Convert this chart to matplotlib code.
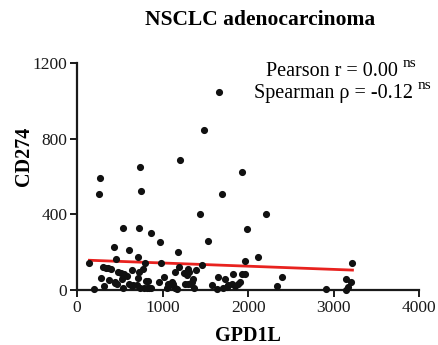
import matplotlib
matplotlib.use("Agg")
import matplotlib.pyplot as plt

plt.rcParams['font.family'] = ['Liberation Serif', 'DejaVu Serif']

# GPD1L (x) vs CD274 (y)
gpd1l = [1657, 1489, 1209, 741, 273, 261, 749, 1934, 1696, 1435, 2207,
         538, 729, 865, 971, 1528, 1992, 433, 612, 710, 460, 1185, 144,
         795, 979, 1462, 1965, 2113,
         308, 336, 366, 394, 775, 647, 476, 511, 553, 581, 284, 378, 448,
         464, 530, 729, 717, 807, 834, 612, 658, 698, 741, 780, 815, 846,
         869, 538, 312, 203, 963, 1021, 1060, 1088, 1123, 1146, 1193, 1142,
         1271, 1295, 1306, 1263, 1302, 1330, 1360, 1372, 1395, 1575, 1645,
         1634, 1731, 1711, 1751, 1770, 1809, 1848, 1887, 1906, 1828, 1930,
         1965, 2394, 2343, 2909, 3220, 3143, 3201, 3166, 3150,
         1166, 1049, 1341, 1108, 1255, 1283, 444, 640]
cd274 = [1048, 849, 689, 652, 594, 507, 522, 625, 507, 403, 400,
         331, 328, 301, 257, 259, 322, 227, 211, 173, 162, 199, 143,
         141, 144, 134, 153, 173,
         123, 118, 116, 114, 113, 109, 97, 88, 85, 74, 62, 51, 41,
         35, 57, 97, 62, 49, 48, 30, 28, 26, 12, 12, 10, 12,
         10, 12, 20, 5, 42, 69, 35, 26, 35, 9, 122, 94,
         88, 113, 97, 30, 30, 32, 58, 9, 106, 26, 70,
         4, 58, 9, 14, 26, 30, 23, 30, 44, 83, 83,
         85, 70, 21, 5, 144, 58, 42, 17, 0,
         4, 9, 44, 44, 88, 79, 39, 20]

# regression line end points
fit_x = [144, 3220]
fit_y = [158, 106]

fig = plt.figure(figsize=(4.38, 3.45), dpi=100)
ax = fig.add_axes([0.176, 0.159, 0.781, 0.658])

ax.scatter(gpd1l, cd274, s=17, color='#111111', zorder=3, clip_on=False)
ax.plot(fit_x, fit_y, color='#e8221f', lw=2, zorder=2)

ax.set_xlim(0, 4000)
ax.set_ylim(0, 1200)
ax.set_xticks([0, 1000, 2000, 3000, 4000])
ax.set_yticks([0, 400, 800, 1200])

for s in ['top', 'right']:
    ax.spines[s].set_visible(False)
for s in ['left', 'bottom']:
    ax.spines[s].set_linewidth(1.6)
    ax.spines[s].set_color('#1a1a1a')
ax.tick_params(width=1.4, length=5, labelsize=12.5, colors='#1a1a1a', pad=2)

ax.set_xlabel("GPD1L", fontsize=14.5, fontweight='bold', labelpad=7)
ax.set_ylabel("CD274", fontsize=14.5, fontweight='bold')
ax.yaxis.set_label_coords(-0.125, 0.59)
fig.text(0.594, 0.942, "NSCLC adenocarcinoma", fontsize=15.5,
         fontweight='bold', ha='center', va='center')

ax.text(0.939, 0.965, "Pearson r = 0.00", transform=ax.transAxes,
        fontsize=14.5, ha='right', va='center')
ax.text(0.951, 0.998, "ns", transform=ax.transAxes,
        fontsize=11, ha='left', va='center')
ax.text(0.982, 0.868, "Spearman \u03c1 = -0.12", transform=ax.transAxes,
        fontsize=14.5, ha='right', va='center')
ax.text(0.994, 0.901, "ns", transform=ax.transAxes,
        fontsize=11, ha='left', va='center')

fig.savefig("out.png", dpi=100)
